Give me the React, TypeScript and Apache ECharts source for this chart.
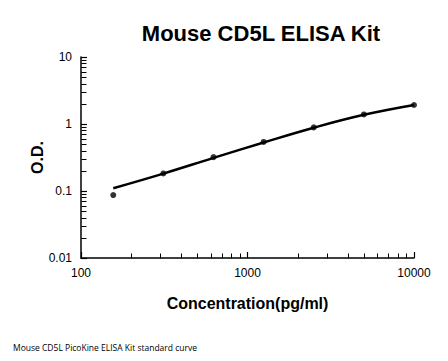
import React, { useEffect, useRef } from "react";
import * as echarts from "echarts";

const concentrations = [156.25, 312.5, 625, 1250, 2500, 5000, 10000];
const odValues = [0.087, 0.183, 0.32, 0.54, 0.89, 1.39, 1.92];
const curveValues = [0.11, 0.182, 0.312, 0.53, 0.88, 1.37, 1.92];
const xMinorTicks = [200, 300, 400, 500, 600, 700, 800, 900, 2000, 3000, 4000, 5000, 6000, 7000, 8000, 9000];
const yMinorTicks = [0.02, 0.03, 0.04, 0.05, 0.06, 0.07, 0.08, 0.09, 0.2, 0.3, 0.4, 0.5, 0.6, 0.7, 0.8, 0.9, 2, 3, 4, 5, 6, 7, 8, 9];
const X_MIN = 100;
const X_MAX = 10000;
const Y_MIN = 0.01;
const Y_MAX = 10;

export default function App() {
  const ref = useRef<HTMLDivElement>(null);
  useEffect(() => {
    const chart = echarts.init(ref.current!, null, { renderer: "svg" });
    const font = "Liberation Sans, Arial, sans-serif";
    const tickRender = (horizontal: boolean) => (params: any, api: any) => {
      const p = api.coord([api.value(0), api.value(1)]);
      const x = Math.round(p[0]) + 0.5;
      const y = Math.round(p[1]) + 0.5;
      return {
        type: "line",
        shape: horizontal
          ? { x1: x, y1: y, x2: x + 5, y2: y }
          : { x1: x, y1: y, x2: x, y2: y - 5 },
        style: { stroke: "#000", lineWidth: 1 },
      };
    };
    chart.setOption({
      animation: false,
      backgroundColor: "#fff",
      title: {
        text: "Mouse CD5L ELISA Kit",
        left: 256,
        textAlign: "center",
        top: 17,
        textStyle: { fontFamily: font, fontWeight: "bold", fontSize: 22, color: "#000" },
      },
      grid: { left: 81, right: 34, top: 57, bottom: 103 },
      xAxis: {
        type: "log",
        logBase: 10,
        min: X_MIN,
        max: X_MAX,
        name: "Concentration(pg/ml)",
        nameLocation: "middle",
        nameGap: 37,
        nameMoveOverlap: false,
        nameTextStyle: { fontFamily: font, fontWeight: "bold", fontSize: 16, color: "#000" },
        axisLine: { show: true, lineStyle: { color: "#000", width: 1.5 } },
        axisTick: { show: true, inside: true, length: 6, lineStyle: { color: "#000", width: 1.2 } },
        axisLabel: { fontFamily: font, fontSize: 12, color: "#000", margin: 9, formatter: (v: number) => String(v) },
        splitLine: { show: false },
      },
      yAxis: {
        type: "log",
        logBase: 10,
        min: Y_MIN,
        max: Y_MAX,
        name: "O.D.",
        nameLocation: "middle",
        nameGap: 36,
        nameMoveOverlap: false,
        nameTextStyle: { fontFamily: font, fontWeight: "bold", fontSize: 16, color: "#000" },
        axisLine: { show: true, lineStyle: { color: "#000", width: 1.5 } },
        axisTick: { show: true, inside: true, length: 6, lineStyle: { color: "#000", width: 1.2 } },
        axisLabel: { fontFamily: font, fontSize: 12, color: "#000", margin: 9, formatter: (v: number) => String(v) },
        splitLine: { show: false },
      },
      graphic: [
        {
          type: "text",
          left: 13,
          top: 343,
          style: { text: "Mouse CD5L PicoKine ELISA Kit standard curve", font: "8.5px 'Open Sans', sans-serif", fill: "#000" },
        },
      ],
      series: [
        {
          type: "line",
          data: concentrations.map((c, i) => [c, curveValues[i]]),
          smooth: 0.4,
          showSymbol: false,
          lineStyle: { color: "#000", width: 2.5 },
          z: 3,
        },
        {
          type: "scatter",
          data: concentrations.map((c, i) => [c, odValues[i]]),
          symbolSize: 6,
          itemStyle: { color: "#000" },
          z: 4,
        },
        {
          type: "custom",
          silent: true,
          clip: false,
          data: xMinorTicks.map((v) => [v, Y_MIN]),
          renderItem: tickRender(false),
          z: 5,
        },
        {
          type: "custom",
          silent: true,
          clip: false,
          data: yMinorTicks.map((v) => [X_MIN, v]),
          renderItem: tickRender(true),
          z: 5,
        },
      ],
    });
    return () => chart.dispose();
  }, []);
  return <div ref={ref} style={{ width: 448, height: 361, position: "absolute", left: 0, top: 0 }} />;
}
